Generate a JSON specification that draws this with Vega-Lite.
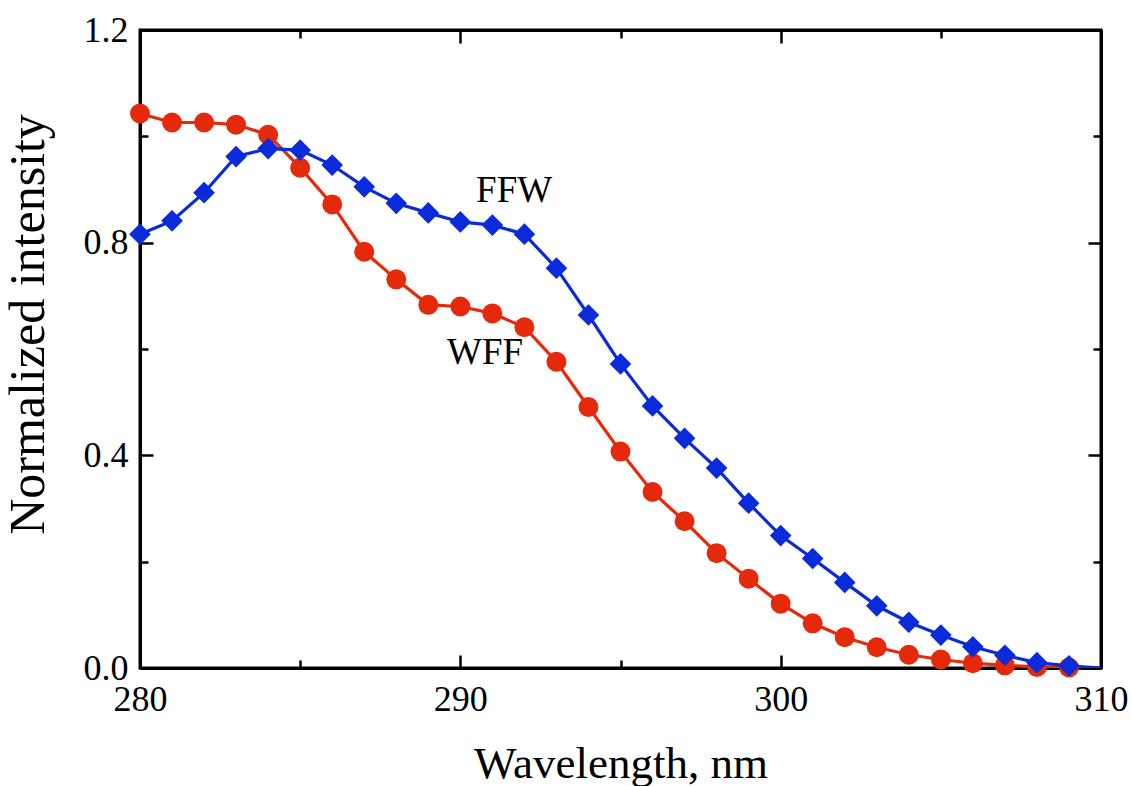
{
  "$schema": "https://vega.github.io/schema/vega-lite/v6.json",
  "width": 961,
  "height": 638,
  "autosize": "none",
  "padding": {"left": 140, "top": 30, "right": 30, "bottom": 118},
  "background": "white",
  "config": {
    "view": {"stroke": "black", "strokeWidth": 3},
    "axis": {
      "grid": false,
      "domainColor": "black",
      "domainWidth": 3,
      "tickColor": "black",
      "tickWidth": 2.5,
      "labelColor": "black",
      "titleColor": "black",
      "labelFont": "Liberation Serif",
      "titleFont": "Liberation Serif",
      "labelFontSize": 36,
      "titleFontSize": 46,
      "titleFontWeight": "normal",
      "labelFlush": false,
      "labelOverlap": false
    }
  },
  "datasets": {
    "spectra": [
      {"wl": 280, "series": "WFF", "v": 1.043},
      {"wl": 281, "series": "WFF", "v": 1.026},
      {"wl": 282, "series": "WFF", "v": 1.026},
      {"wl": 283, "series": "WFF", "v": 1.022},
      {"wl": 284, "series": "WFF", "v": 1.003},
      {"wl": 285, "series": "WFF", "v": 0.941},
      {"wl": 286, "series": "WFF", "v": 0.872},
      {"wl": 287, "series": "WFF", "v": 0.783},
      {"wl": 288, "series": "WFF", "v": 0.731},
      {"wl": 289, "series": "WFF", "v": 0.683},
      {"wl": 290, "series": "WFF", "v": 0.680},
      {"wl": 291, "series": "WFF", "v": 0.667},
      {"wl": 292, "series": "WFF", "v": 0.641},
      {"wl": 293, "series": "WFF", "v": 0.576},
      {"wl": 294, "series": "WFF", "v": 0.491},
      {"wl": 295, "series": "WFF", "v": 0.407},
      {"wl": 296, "series": "WFF", "v": 0.331},
      {"wl": 297, "series": "WFF", "v": 0.276},
      {"wl": 298, "series": "WFF", "v": 0.216},
      {"wl": 299, "series": "WFF", "v": 0.168},
      {"wl": 300, "series": "WFF", "v": 0.121},
      {"wl": 301, "series": "WFF", "v": 0.084},
      {"wl": 302, "series": "WFF", "v": 0.058},
      {"wl": 303, "series": "WFF", "v": 0.039},
      {"wl": 304, "series": "WFF", "v": 0.025},
      {"wl": 305, "series": "WFF", "v": 0.016},
      {"wl": 306, "series": "WFF", "v": 0.009},
      {"wl": 307, "series": "WFF", "v": 0.005},
      {"wl": 308, "series": "WFF", "v": 0.002},
      {"wl": 309, "series": "WFF", "v": 0.001},
      {"wl": 280, "series": "FFW", "v": 0.816},
      {"wl": 281, "series": "FFW", "v": 0.841},
      {"wl": 282, "series": "FFW", "v": 0.894},
      {"wl": 283, "series": "FFW", "v": 0.962},
      {"wl": 284, "series": "FFW", "v": 0.977},
      {"wl": 285, "series": "FFW", "v": 0.974},
      {"wl": 286, "series": "FFW", "v": 0.946},
      {"wl": 287, "series": "FFW", "v": 0.905},
      {"wl": 288, "series": "FFW", "v": 0.874},
      {"wl": 289, "series": "FFW", "v": 0.856},
      {"wl": 290, "series": "FFW", "v": 0.839},
      {"wl": 291, "series": "FFW", "v": 0.833},
      {"wl": 292, "series": "FFW", "v": 0.816},
      {"wl": 293, "series": "FFW", "v": 0.752},
      {"wl": 294, "series": "FFW", "v": 0.664},
      {"wl": 295, "series": "FFW", "v": 0.572},
      {"wl": 296, "series": "FFW", "v": 0.493},
      {"wl": 297, "series": "FFW", "v": 0.432},
      {"wl": 298, "series": "FFW", "v": 0.376},
      {"wl": 299, "series": "FFW", "v": 0.310},
      {"wl": 300, "series": "FFW", "v": 0.249},
      {"wl": 301, "series": "FFW", "v": 0.206},
      {"wl": 302, "series": "FFW", "v": 0.161},
      {"wl": 303, "series": "FFW", "v": 0.117},
      {"wl": 304, "series": "FFW", "v": 0.086},
      {"wl": 305, "series": "FFW", "v": 0.062},
      {"wl": 306, "series": "FFW", "v": 0.040},
      {"wl": 307, "series": "FFW", "v": 0.024},
      {"wl": 308, "series": "FFW", "v": 0.010},
      {"wl": 309, "series": "FFW", "v": 0.004},
      {"wl": 310, "series": "FFW", "v": 0.0}
    ],
    "labels": [
      {"wl": 291.68, "v": 0.877, "label": "FFW"},
      {"wl": 290.77, "v": 0.572, "label": "WFF"}
    ]
  },
  "resolve": {"axis": {"x": "independent", "y": "independent"}},
  "layer": [
    {
      "data": {"name": "spectra"},
      "mark": {"type": "line", "strokeWidth": 3.2, "clip": true},
      "encoding": {
        "x": {
          "field": "wl", "type": "quantitative",
          "scale": {"domain": [280, 310]},
          "axis": {"orient": "bottom", "values": [280, 290, 300, 310], "format": "d", "tickSize": -13, "labelPadding": 27, "title": "Wavelength, nm", "titleFontSize": 45, "titlePadding": 24}
        },
        "y": {
          "field": "v", "type": "quantitative",
          "scale": {"domain": [0, 1.2]},
          "axis": {"orient": "left", "values": [0, 0.4, 0.8, 1.2], "format": ".1f", "tickSize": -13, "labelPadding": 25, "title": "Normalized intensity", "titleFontSize": 50, "titlePadding": 30, "titleY": 294}
        },
        "color": {
          "field": "series", "type": "nominal",
          "scale": {"domain": ["WFF", "FFW"], "range": ["#e52a0b", "#0b2ad9"]},
          "legend": null
        }
      }
    },
    {
      "data": {"name": "spectra"},
      "transform": [{"filter": "datum.series === 'WFF'"}],
      "mark": {"type": "point", "filled": true, "shape": "circle", "size": 400, "opacity": 1, "color": "#e52a0b"},
      "encoding": {
        "x": {"field": "wl", "type": "quantitative", "axis": {"orient": "bottom", "values": [285, 295, 305], "tickSize": -8, "labels": false, "domain": false, "title": null}},
        "y": {"field": "v", "type": "quantitative", "axis": {"orient": "left", "values": [0.2, 0.6, 1.0], "tickSize": -8, "labels": false, "domain": false, "title": null}}
      }
    },
    {
      "data": {"name": "spectra"},
      "transform": [{"filter": "datum.series === 'FFW' && datum.wl < 310"}],
      "mark": {"type": "point", "filled": true, "shape": "diamond", "size": 470, "opacity": 1, "color": "#0b2ad9"},
      "encoding": {
        "x": {"field": "wl", "type": "quantitative", "axis": {"orient": "top", "values": [280, 290, 300, 310], "tickSize": -13, "labels": false, "title": null}},
        "y": {"field": "v", "type": "quantitative", "axis": {"orient": "right", "values": [0, 0.4, 0.8, 1.2], "tickSize": -13, "labels": false, "title": null}}
      }
    },
    {
      "data": {"name": "labels"},
      "mark": {"type": "text", "font": "Liberation Serif", "fontSize": 37, "align": "center", "baseline": "alphabetic", "color": "black"},
      "encoding": {
        "x": {"field": "wl", "type": "quantitative", "axis": {"orient": "top", "values": [285, 295, 305], "tickSize": -8, "labels": false, "domain": false, "title": null}},
        "y": {"field": "v", "type": "quantitative", "axis": {"orient": "right", "values": [0.2, 0.6, 1.0], "tickSize": -8, "labels": false, "domain": false, "title": null}},
        "text": {"field": "label"}
      }
    }
  ]
}
